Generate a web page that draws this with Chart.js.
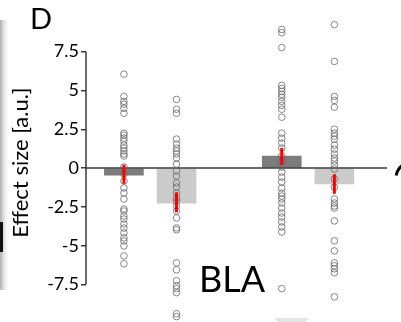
<!DOCTYPE html>
<html>
<head>
<meta charset="utf-8">
<script src="https://cdn.jsdelivr.net/npm/chart.js@4"></script>
<style>
  html, body { margin: 0; padding: 0; background: #fff; }
  #wrap { width: 401px; height: 322px; position: relative; }
</style>
</head>
<body>
<div id="wrap"><canvas id="myChart" width="401" height="322"></canvas></div>
<script>
//
// DATA
//
const groupX = [1, 2, 4, 5];
const barValues = [-0.45, -2.25, 0.77, -1.02];
const barColors = ['#7c7c7c', '#cbcbcb', '#7c7c7c', '#cbcbcb'];
const errLow = [-1.0, -2.85, 0.2, -1.65];
const errHigh = [0.22, -1.55, 1.3, -0.4];
const yTicks = [-7.5, -5, -2.5, 0, 2.5, 5, 7.5];

const points1 = [6.05, 4.62, 4.3, 4.11, 3.85, 3.53, 2.25, 2.12, 1.93, 1.74, 1.48, 1.29, 1.1, 0.91, 0.78,
    0.07, -0.38, -0.83, -1.28, -1.6, -1.99, -2.63, -2.76, -3.08, -3.28, -3.6, -3.86, -4.17, -4.49, -4.69,
    -5.01, -5.65, -6.16];
const points2 = [4.42, 3.79, 3.53, 1.87, 1.55, 1.29, 1.1, 0.91, 0.65, 0.26, -0.19, -0.51, -0.96, -1.22,
    -1.6, -1.93, -2.12, -2.44, -2.76, -3.21, -3.85, -3.97, -6.1, -6.55, -7.25, -7.57, -7.76, -8.02,
    -9.37, -9.56];
const points3 = [8.92, 8.72, 7.76, 5.33, 5.13, 4.94, 4.75, 4.56, 4.3, 4.04, 3.79, 3.28, 2.25, 1.93, 1.61,
    1.29, 0.78, 0.46, 0.07, -0.26, -0.58, -0.9, -1.29, -1.61, -1.8, -1.99, -2.25, -2.57, -2.89, -3.15,
    -3.47, -3.79, -4.11, -7.76];
const points4 = [9.24, 6.87, 4.62, 4.36, 3.92, 2.51, 2.25, 2.06, 1.86, 1.48, 1.22, 0.91, 0.65, 0.46, 0.2,
    -0.06, -0.7, -1.22, -1.99, -2.25, -2.44, -2.57, -3.4, -4.68, -5.33, -6.1, -6.29, -6.48, -6.74, -8.29];
const allPoints = [points1, points2, points3, points4];

const fontFamily = "'Lato', 'Noto Sans', sans-serif";

//
// datasets
//
let datasets = [];

// bars, one dataset so grouping doesn't shift them
datasets.push({
    type: 'bar',
    data: groupX.map((x, i) => ({ x: x, y: barValues[i] })),
    backgroundColor: barColors,
    borderWidth: 0,
    barThickness: 39,
    grouped: false,
    order: 4,
});

// zero line
datasets.push({
    type: 'line',
    data: [{ x: 0.28, y: 0 }, { x: 6.0, y: 0 }],
    borderColor: '#3a3a3a',
    borderWidth: 1.5,
    pointRadius: 0,
    order: 3,
});

// single points
for (let i = 0; i < allPoints.length; i++) {
    datasets.push({
        type: 'scatter',
        data: allPoints[i].map(v => ({ x: groupX[i], y: v })),
        pointRadius: 3.3,
        pointBorderWidth: 0.8,
        pointBorderColor: '#6a6a6a',
        pointBackgroundColor: 'rgba(255,255,255,0)',
        clip: false,
        order: 2,
    });
}

// error bars, nulls break the line between groups
let errData = [];
for (let i = 0; i < groupX.length; i++) {
    errData.push({ x: groupX[i], y: errLow[i] });
    errData.push({ x: groupX[i], y: errHigh[i] });
    errData.push({ x: groupX[i], y: null });
}
datasets.push({
    type: 'line',
    data: errData,
    borderColor: '#ff0000',
    borderWidth: 3,
    borderCapStyle: 'butt',
    pointRadius: 0,
    spanGaps: false,
    order: 1,
});

//
// extra drawing: y axis line, panel letter, region label, bits of the neighbour panels
//
const decoPlugin = {
    id: 'deco',
    beforeDraw(chart) {
        const ctx = chart.ctx;
        ctx.save();
        // left strip from neighbouring image
        let g = ctx.createLinearGradient(0, 0, 10, 0);
        g.addColorStop(0, 'rgba(120,120,120,0.6)');
        g.addColorStop(1, 'rgba(255,255,255,0)');
        ctx.fillStyle = g;
        ctx.fillRect(0, 20, 10, 270);
        ctx.fillStyle = '#111';
        ctx.fillRect(0, 222, 3, 30);
        ctx.restore();
    },
    afterDraw(chart) {
        const ctx = chart.ctx;
        const y = chart.scales.y;
        const left = chart.chartArea.left;
        ctx.save();
        ctx.strokeStyle = '#3a3a3a';
        ctx.lineWidth = 1.5;
        ctx.beginPath();
        ctx.moveTo(left, y.getPixelForValue(yTicks[yTicks.length - 1]));
        ctx.lineTo(left, y.getPixelForValue(yTicks[0]));
        ctx.stroke();

        ctx.fillStyle = '#000';
        ctx.textBaseline = 'alphabetic';
        ctx.font = '29px ' + fontFamily;
        ctx.fillText('D', 30, 29);
        ctx.font = '36px ' + fontFamily;
        ctx.fillText('BLA', 199, 292);

        // right edge stroke of next panel
        ctx.lineWidth = 3;
        ctx.strokeStyle = '#000';
        ctx.beginPath();
        ctx.arc(412, 178, 16, Math.PI * 1.05, Math.PI * 1.3);
        ctx.stroke();

        // light shape at bottom
        ctx.fillStyle = '#e4e4e4';
        ctx.beginPath();
        ctx.moveTo(274, 318);
        ctx.lineTo(309, 318);
        ctx.lineTo(305, 322);
        ctx.lineTo(278, 322);
        ctx.closePath();
        ctx.fill();
        ctx.restore();
    }
};

//
// CHART
//
var myChart = new Chart(document.getElementById('myChart').getContext('2d'), {
    type: 'bar',
    data: { datasets: datasets },
    plugins: [decoPlugin],
    options: {
        responsive: false,
        animation: false,
        layout: { padding: { left: 0, right: 14, top: 8, bottom: 2 } },
        plugins: {
            legend: { display: false },
            tooltip: { enabled: false },
        },
        scales: {
            x: {
                type: 'linear',
                min: 0.28,
                max: 6.0,
                offset: false,
                display: false,
            },
            y: {
                min: -9.6,
                max: 10.31,
                afterBuildTicks: s => { s.ticks = yTicks.map(v => ({ value: v })); },
                afterFit: s => {
                    s.width = 86;
                    // labels sit well inside the range, no extra room needed
                    s.paddingTop = 0;
                    s.paddingBottom = 0;
                },
                border: { display: false },
                grid: {
                    drawOnChartArea: false,
                    tickLength: 5,
                    color: '#3a3a3a',
                    lineWidth: 1.5,
                },
                ticks: {
                    padding: 2,
                    color: '#000',
                    font: { family: fontFamily, size: 18 },
                    callback: v => String(v),
                },
                title: {
                    display: true,
                    text: 'Effect size [a.u.]',
                    color: '#000',
                    font: { family: fontFamily, size: 22 },
                    padding: { top: 8, bottom: 0 },
                },
            },
        },
    },
});
</script>
</body>
</html>
